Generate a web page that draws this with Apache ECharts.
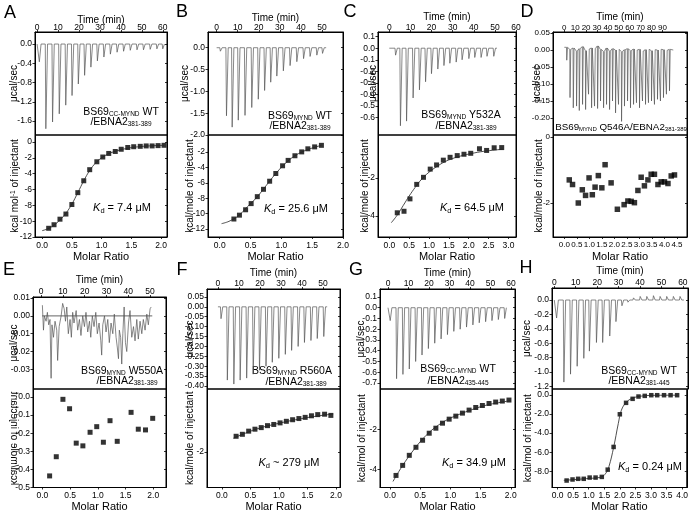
<!DOCTYPE html>
<html><head><meta charset="utf-8">
<script src="https://cdn.jsdelivr.net/npm/echarts@6/dist/echarts.min.js"></script>
<style>html,body{margin:0;padding:0;background:#fff}#c{width:691px;height:513px}</style>
</head><body><div id="c"></div>
<script>
// ================= DATA =================
// ---- A ----
const A_injTime = [0.8,3.9,7.1,10.3,13.4,16.4,19.4,22.4,25.4,28.5,31.6,34.7,37.9,41.0,44.2,47.4,50.5,53.7,56.9,59.7];
const A_injHeat = [-0.37,-1.76,-1.62,-1.45,-1.27,-1.07,-0.83,-0.65,-0.48,-0.35,-0.27,-0.21,-0.17,-0.15,-0.13,-0.12,-0.12,-0.11,-0.10,-0.10];
const A_ratio = [0.11,0.20,0.30,0.40,0.50,0.60,0.70,0.80,0.92,1.02,1.12,1.23,1.33,1.44,1.54,1.65,1.75,1.85,1.95,2.05];
const A_heat = [-10.9,-10.45,-9.75,-9.1,-7.9,-6.4,-4.9,-3.5,-2.5,-1.9,-1.45,-1.2,-0.92,-0.7,-0.6,-0.55,-0.5,-0.5,-0.46,-0.42];
const A_fitRatio = [0.0,0.1,0.2,0.3,0.4,0.5,0.6,0.7,0.8,0.9,1.0,1.1,1.2,1.4,1.6,1.8,2.05];
const A_fitHeat = [-11.2,-10.95,-10.5,-9.85,-9.0,-7.85,-6.4,-4.9,-3.6,-2.65,-2.0,-1.55,-1.25,-0.85,-0.62,-0.5,-0.42];
const A_timeTicks = [0,10,20,30,40,50,60];
const A_ratioTicks = [0,0.5,1,1.5,2];
const A_rawTicks = [0,-0.4,-0.8,-1.2,-1.6];
const A_heatTicks = [0,-2,-4,-6,-8,-10,-12];
// ---- B ----
const B_injTime = [1.5,4.4,7.1,10.0,13.2,16.4,19.5,22.5,25.4,28.3,31.4,34.6,37.8,41.0,44.1,47.3,50.0];
const B_injHeat = [-0.08,-1.56,-1.82,-1.66,-1.55,-1.37,-1.18,-0.98,-0.79,-0.65,-0.53,-0.41,-0.32,-0.25,-0.2,-0.17,-0.13];
const B_ratio = [0.23,0.32,0.42,0.51,0.61,0.71,0.81,0.91,1.02,1.11,1.22,1.33,1.43,1.54,1.65];
const B_heat = [-10.7,-10.2,-9.5,-8.7,-7.8,-6.85,-5.8,-4.8,-3.8,-3.1,-2.5,-2.0,-1.6,-1.35,-1.15];
const B_fitRatio = [0.03,0.15,0.3,0.45,0.6,0.75,0.9,1.05,1.2,1.35,1.5,1.65];
const B_fitHeat = [-11.3,-11.0,-10.3,-9.1,-7.9,-6.4,-4.9,-3.6,-2.6,-1.95,-1.5,-1.15];
const B_timeTicks = [0,10,20,30,40,50];
const B_ratioTicks = [0,0.5,1,1.5,2];
const B_rawTicks = [0,-0.5,-1,-1.5,-2];
const B_heatTicks = [-2,-4,-6,-8,-10,-12];
// ---- C ----
const C_injTime = [2.7,5.0,7.9,11.0,14.0,16.9,19.7,22.7,25.6,28.4,31.4,34.2,37.4,40.2,43.2,46.0,49.2];
const C_injHeat = [-0.06,-0.67,-0.63,-0.43,-0.36,-0.29,-0.22,-0.18,-0.15,-0.13,-0.12,-0.10,-0.09,-0.08,-0.08,-0.07,-0.07];
const C_ratio = [0.2,0.37,0.52,0.69,0.86,1.03,1.19,1.36,1.53,1.71,1.88,2.05,2.27,2.45,2.64,2.83];
const C_heat = [-3.83,-3.75,-3.1,-2.34,-1.97,-1.54,-1.32,-1.07,-0.92,-0.83,-0.76,-0.71,-0.47,-0.56,-0.42,-0.41];
const C_fitRatio = [0.05,0.2,0.35,0.5,0.65,0.8,1.0,1.2,1.4,1.6,1.8,2.0,2.3,2.6,2.85];
const C_fitHeat = [-4.35,-3.95,-3.45,-2.95,-2.5,-2.1,-1.7,-1.4,-1.15,-0.98,-0.85,-0.75,-0.63,-0.55,-0.5];
const C_timeTicks = [0,10,20,30,40,50,60];
const C_ratioTicks = [0,0.5,1,1.5,2,2.5,3];
const C_rawTicks = [0.1,0,-0.1,-0.2,-0.3,-0.4,-0.5,-0.6];
const C_heatTicks = [-2,-4];
// ---- D ----
const D_injTime = [2,5,8,11,13.5,16.5,19.3,22,24.8,27.5,30.3,33,35.8,38.5,41.3,44,46.8,49.5,52.3,55,57.8,60.5,63.3,66,68.8,71.5,74.3,77,79.8,82.5,85.3,88,90.8,93.5,96.3];
const D_injHeat = [-0.03,-0.14,-0.17,-0.165,-0.178,-0.16,-0.175,-0.13,-0.17,-0.165,-0.172,-0.15,-0.17,-0.16,-0.175,-0.15,-0.185,-0.16,-0.21,-0.165,-0.15,-0.17,-0.16,-0.155,-0.17,-0.15,-0.16,-0.155,-0.15,-0.16,-0.145,-0.15,-0.14,-0.13,-0.12];
const D_injBase = [0.008,0.002,0.006,-0.003,0.004,0.01,-0.002,0.003,0.006,0.004,0.012,0.002,-0.004,0.006,-0.003,0.004,0,0.002,-0.005,0.001,0.004,-0.002,0.003,0,0.002,-0.003,0.001,0.002,-0.002,0.001,0,0.002,0.001,-0.001,0.002];
const D_ratio = [0.2,0.33,0.56,0.72,0.85,0.99,1.12,1.23,1.36,1.5,1.63,1.87,2.12,2.39,2.54,2.67,2.8,2.94,3.07,3.2,3.34,3.47,3.6,3.74,3.87,4.0,4.14,4.27,4.4];
const D_heat = [-1.3,-1.44,-2.0,-1.6,-1.77,-1.24,-1.75,-1.52,-1.17,-1.54,-0.84,-1.39,-2.19,-2.05,-1.94,-1.95,-1.99,-1.62,-1.22,-1.48,-1.3,-1.13,-1.13,-1.44,-1.36,-1.36,-1.41,-1.18,-1.15];
const D_timeTicks = [0,10,20,30,40,50,60,70,80,90,100];
const D_ratioTicks = [0,0.5,1,1.5,2,2.5,3,3.5,4,4.5];
const D_rawTicks = [0.05,0,-0.05,-0.1,-0.15,-0.2];
const D_heatTicks = [0,-2];
// ---- E ----
const E_rawTime = [0.6,1.1,1.5,2.3,2.9,3.5,4.1,4.6,5.0,5.7,6.4,7.2,7.6,8.3,9.2,9.9,10.6,11.2,11.8,12.5,13.3,13.9,14.5,15.1,16.1,16.8,17.6,18.3,19.1,19.9,20.6,21.4,22.2,22.8,23.5,24.3,25.1,25.8,26.6,27.4,27.8,28.3,29.1,29.8,30.6,31.3,32.1,32.9,33.6,34.4,35.0,35.5,35.9,36.5,37.0,37.5,38.1,38.7,39.3,40.1,40.8,41.6,42.4,43.1,43.9,44.6,45.4,46.2,46.9,47.7,48.5,49.2,50.0,50.5];
const E_rawVal = [0.006,-0.008,0.0,-0.003,0.002,-0.005,-0.002,-0.035,-0.005,-0.012,-0.003,-0.008,-0.025,-0.006,0.0,0.007,0.004,-0.003,0.005,-0.01,-0.002,-0.012,0.002,-0.004,0.003,-0.008,-0.002,-0.011,0.0,-0.006,0.002,-0.009,-0.003,-0.012,0.0,-0.006,0.002,-0.01,-0.004,-0.014,-0.022,-0.005,0.0,-0.009,-0.002,-0.015,-0.004,-0.01,0.001,-0.012,-0.018,-0.024,-0.008,-0.012,-0.027,-0.01,0.005,-0.015,-0.02,-0.004,0.003,-0.012,-0.006,-0.014,-0.002,-0.013,-0.003,-0.01,-0.002,-0.008,0.001,-0.005,0.004,0.005];
const E_baseTime = [0.5,51];
const E_baseVal = [0,0];
const E_ratio = [0.13,0.25,0.37,0.49,0.61,0.73,0.86,0.98,1.1,1.22,1.35,1.6,1.73,1.86,1.99];
const E_heat = [-0.436,-0.33,-0.013,-0.065,-0.255,-0.27,-0.195,-0.164,-0.25,-0.131,-0.245,-0.085,-0.178,-0.182,-0.118];
const E_timeTicks = [0,10,20,30,40,50];
const E_ratioTicks = [0,0.5,1,1.5,2];
const E_rawTicks = [0.01,0,-0.01,-0.02,-0.03];
const E_heatTicks = [0,-0.1,-0.2,-0.3,-0.4,-0.5];
// ---- F ----
const F_injTime = [1.2,4.2,7.3,10.3,13.4,16.5,19.5,22.6,25.6,28.7,31.8,34.8,37.9,40.9,44.0,47.0,50.1];
const F_injHeat = [-0.06,-0.37,-0.39,-0.37,-0.36,-0.34,-0.32,-0.3,-0.28,-0.26,-0.24,-0.22,-0.2,-0.18,-0.17,-0.16,-0.15];
const F_ratio = [0.25,0.36,0.47,0.58,0.69,0.8,0.91,1.02,1.13,1.24,1.35,1.46,1.57,1.68,1.8,1.91];
const F_heat = [-1.6,-1.55,-1.47,-1.42,-1.38,-1.33,-1.3,-1.26,-1.22,-1.18,-1.15,-1.12,-1.08,-1.05,-1.04,-1.07];
const F_fitRatio = [0.2,0.6,1.0,1.4,1.8,1.95];
const F_fitHeat = [-1.65,-1.42,-1.27,-1.15,-1.06,-1.04];
const F_timeTicks = [0,10,20,30,40,50];
const F_ratioTicks = [0,0.5,1,1.5,2];
const F_rawTicks = [0.05,0,-0.05,-0.1,-0.15,-0.2,-0.25,-0.3,-0.35,-0.4];
const F_heatTicks = [-2];
// ---- G ----
const G_injTime = [0.8,3.9,7.0,10.1,13.2,16.3,19.4,22.5,25.6,28.7,31.8,34.9,38.0,41.1,44.2,47.3,50.4,53.5,56.6];
const G_injHeat = [-0.12,-0.66,-0.62,-0.57,-0.5,-0.44,-0.38,-0.33,-0.29,-0.25,-0.22,-0.2,-0.18,-0.16,-0.14,-0.13,-0.12,-0.11,-0.1];
const G_ratio = [0.1,0.21,0.32,0.43,0.54,0.65,0.76,0.87,0.98,1.09,1.2,1.31,1.42,1.53,1.64,1.75,1.86,1.97];
const G_heat = [-4.3,-3.8,-3.3,-2.9,-2.55,-2.2,-1.95,-1.7,-1.5,-1.35,-1.2,-1.05,-0.92,-0.82,-0.72,-0.65,-0.6,-0.55];
const G_fitRatio = [0.05,0.2,0.4,0.6,0.8,1.0,1.2,1.4,1.6,1.8,2.0];
const G_fitHeat = [-4.6,-3.85,-3.0,-2.3,-1.8,-1.45,-1.2,-0.98,-0.8,-0.68,-0.58];
const G_timeTicks = [0,10,20,30,40,50,60];
const G_ratioTicks = [0,0.5,1,1.5,2];
const G_rawTicks = [0.1,0,-0.1,-0.2,-0.3,-0.4,-0.5,-0.6,-0.7];
const G_heatTicks = [-2,-4];
// ---- H ----
const H_injTime = [0.8,4.2,7.3,10.4,13.5,16.1,19.4,22.3,25.6,28.5,31.3,34.1,36.7,39.8,42.9,46.0,49.1,52.2,55.3,58.4];
const H_injHeat = [-0.25,-1.14,-1.03,-0.92,-0.81,-0.71,-0.59,-0.59,-0.5,-0.3,-0.08,-0.03,0.03,0.05,0.05,0.06,0.05,0.05,0.05,0.05];
const H_ratio = [0.29,0.48,0.66,0.84,1.03,1.22,1.42,1.61,1.8,2.0,2.2,2.41,2.6,2.8,3.01,3.2,3.42,3.63,3.84];
const H_heat = [-8.97,-8.86,-8.79,-8.79,-8.66,-8.66,-8.59,-7.83,-5.45,-2.03,-0.83,-0.41,-0.17,-0.1,-0.03,-0.03,-0.03,-0.03,-0.03];
const H_fitRatio = [0.2,1.0,1.4,1.55,1.65,1.8,1.95,2.05,2.2,2.4,2.7,3.2,3.85];
const H_fitHeat = [-8.95,-8.75,-8.6,-8.2,-7.5,-5.5,-3.0,-1.6,-0.8,-0.35,-0.12,-0.04,-0.03];
const H_timeTicks = [0,10,20,30,40,50,60];
const H_ratioTicks = [0,0.5,1,1.5,2,2.5,3,3.5,4];
const H_rawTicks = [0,-0.2,-0.4,-0.6,-0.8,-1.0,-1.2];
const H_heatTicks = [0,-2,-4,-6,-8];

// ================= LAYOUT =================
const FONT = '"Liberation Sans", Arial, Helvetica, sans-serif';
const TICKFONT = '"Liberation Sans Narrow", "Liberation Sans", Arial, sans-serif';
const panels = [
 {L:35,R:167,t1:32,t2:135,t3:237, time:[-1,62], ratio:[-0.12,2.1], raw:[-1.89,0.25], heat:[-12,0.88],
  inj:[A_injTime,A_injHeat], traceEnd:61, pts:[A_ratio,A_heat], fit:[A_fitRatio,A_fitHeat],
  ticks:[A_timeTicks,A_ratioTicks,A_rawTicks,A_heatTicks], dec:[1,0], gaps:{time:7,raw:16,heat:15,rl:0,rn:14.5},
  rawName:'μcal/sec', heatName:'kcal mol{sup|-1} of injectant'},
 {L:208,R:343,t1:32,t2:135,t3:237, time:[-4.1,60], ratio:[-0.19,2.0], raw:[-2.0,0.36], heat:[-13.03,0.19],
  inj:[B_injTime,B_injHeat], traceEnd:52, pts:[B_ratio,B_heat], fit:[B_fitRatio,B_fitHeat],
  ticks:[B_timeTicks,B_ratioTicks,B_rawTicks,B_heatTicks], dec:[1,0], gaps:{time:8.5,raw:17.5,heat:13,rl:0,rn:14.5},
  rawName:'μcal/sec', heatName:'kcal/mole of injectant'},
 {L:378,R:516,t1:32,t2:135,t3:237, time:[-5.35,60], ratio:[-0.285,3.19], raw:[-0.75,0.14], heat:[-5.1,0.25],
  inj:[C_injTime,C_injHeat], traceEnd:51, pts:[C_ratio,C_heat], fit:[C_fitRatio,C_fitHeat],
  ticks:[C_timeTicks,C_ratioTicks,C_rawTicks,C_heatTicks], dec:[1,0], gaps:{time:10,raw:0,heat:8,rl:0,rn:14.5},
  rawName:'μcal/sec', heatName:'kcal/mole of injectant'},
 {L:553,R:687,t1:32,t2:135,t3:237, time:[-10.4,112.6], ratio:[-0.45,4.9], raw:[-0.25,0.053], heat:[-3.03,0.06],
  inj:[D_injTime,D_injHeat], base:D_injBase, w:0.9, traceEnd:100, pts:[D_ratio,D_heat], fit:null,
  ticks:[D_timeTicks,D_ratioTicks,D_rawTicks,D_heatTicks], dec:[2,0], gaps:{time:10,raw:11,heat:9,rl:0,rn:14.5}, small:true, sym:5.5,
  rawName:'μcal/sec', heatName:'kcal/mole of injectant'},
 {L:33,R:166,t1:297,t2:389,t3:488, time:[-3.7,57.3], ratio:[-0.17,2.23], raw:[-0.041,0.0106], heat:[-0.5,0.044],
  raw2:[E_rawTime,E_rawVal], baseLine:[E_baseTime,E_baseVal], pts:[E_ratio,E_heat], fit:null,
  ticks:[E_timeTicks,E_ratioTicks,E_rawTicks,E_heatTicks], dec:[2,1], gaps:{time:12,raw:13.5,heat:15,rl:1,rn:13.5},
  rawName:'μcal/sec', heatName:'', mirrorName:'kcal/mole of injectant'},
 {L:207,R:340,t1:289,t2:389,t3:488, time:[-5.2,58.1], ratio:[-0.26,2.07], raw:[-0.415,0.09], heat:[-2.9,-0.4],
  inj:[F_injTime,F_injHeat], traceEnd:52, pts:[F_ratio,F_heat], fit:[F_fitRatio,F_fitHeat],
  ticks:[F_timeTicks,F_ratioTicks,F_rawTicks,F_heatTicks], dec:[2,0], gaps:{time:11,raw:12,heat:12,rl:1,rn:13.5},
  rawName:'μcal/sec', heatName:'kcal/mole of injectant'},
 {L:380,R:515,t1:289,t2:389,t3:488, time:[-3.9,61.9], ratio:[-0.165,2.07], raw:[-0.756,0.174], heat:[-4.9,0.0],
  inj:[G_injTime,G_injHeat], traceEnd:58, pts:[G_ratio,G_heat], fit:[G_fitRatio,G_fitHeat],
  ticks:[G_timeTicks,G_ratioTicks,G_rawTicks,G_heatTicks], dec:[1,0], gaps:{time:11,raw:14,heat:13,rl:1,rn:13.5},
  rawName:'μcal/sec', heatName:'kcal/mol of injectant'},
 {L:552,R:688,t1:288,t2:389,t3:488, time:[-1.07,62.4], ratio:[-0.18,4.15], raw:[-1.236,0.167], heat:[-9.7,0.62],
  inj:[H_injTime,H_injHeat], traceEnd:60.5, pts:[H_ratio,H_heat], fit:[H_fitRatio,H_fitHeat],
  ticks:[H_timeTicks,H_ratioTicks,H_rawTicks,H_heatTicks], dec:[1,1], gaps:{time:12,raw:19.5,heat:18.5,rl:1,rn:13.5}, sym:4.5,
  rawName:'μcal/sec', heatName:'kcal/mol of injectant'}
];

const letters = [['A',10,13],['B',182,12],['C',350,12],['D',527,12],['E',9,270],['F',182,270],['G',356,270],['H',526,268]];
const notes = [
 [121,112,'{n|BS69}{s|CC-MYND}{n| WT}'],[121,122,'{n|/EBNA2}{s|381-389}'],[122,208,'{i|K}{d|d}{k| = 7.4 μM}'],
 [300,116,'{n|BS69}{s|MYND}{n| WT}'],[300,126,'{n|/EBNA2}{s|381-389}'],[296,209,'{i|K}{d|d}{k| = 25.6 μM}'],
 [461,115,'{n|BS69}{s|MYND}{n| Y532A}'],[466,126,'{n|/EBNA2}{s|381-389}'],[472,208,'{i|K}{d|d}{k| = 64.5 μM}'],
 [621,127,'{m|BS69}{t|MYND}{m| Q546A/EBNA2}{t|381-389}'],
 [122,371,'{n|BS69}{s|MYND}{n| W550A}'],[127,381,'{n|/EBNA2}{s|381-389}'],
 [292,371,'{n|BS69}{s|MYND}{n| R560A}'],[296,382,'{n|/EBNA2}{s|381-389}'],[289,463,'{i|K}{d|d}{k| ~ 279 μM}'],
 [458,369,'{n|BS69}{s|CC-MYND}{n| WT}'],[458,381,'{n|/EBNA2}{s|435-445}'],[474,463,'{i|K}{d|d}{k| = 34.9 μM}'],
 [639,371,'{n|BS69}{s|CC-MYND}{n| WT}'],[639,381,'{n|/EBNA2}{s|381-445}'],[650,467,'{i|K}{d|d}{k| = 0.24 μM}']
];

function fmt(v, dec){ return (Math.abs(v) < 1e-9 ? 0 : v).toFixed(dec); }

function spikeTrace(t, q, base, w, tEnd){
  const pts = [[0, base ? base[0] : 0]];
  for (let i = 0; i < t.length; i++){
    const b = base ? base[i] : 0;
    pts.push([t[i], b], [t[i] + 0.25*w, q[i]], [t[i] + w, b]);
  }
  pts.push([Math.max(tEnd, t[t.length-1] + w + 0.3), 0]);
  return pts;
}
const zip = (a, b) => a.map((v, i) => [v, b[i]]);

const option = {animation:false, backgroundColor:'#fff', grid:[], xAxis:[], yAxis:[], series:[], graphic:[]};

function xAx(gi, range, ticks, dec, pos, name, gap, margin, fs){
  return {type:'value', gridIndex:gi, min:range[0], max:range[1], position:pos,
    name:name, nameLocation:'middle', nameGap:gap, nameMoveOverlap:false,
    nameTextStyle:{fontFamily:FONT, fontSize: pos==='top'?10:11, color:'#000'},
    axisLine:{show:true, onZero:false, lineStyle:{color:'#000', width:1}},
    axisTick:{show:true, customValues:ticks, length:2, lineStyle:{color:'#000', width:0.8}},
    axisLabel:{show:true, customValues:ticks, formatter:v=>fmt(v,dec), fontSize:fs, margin:margin, color:'#000', fontFamily:TICKFONT, hideOverlap:false},
    splitLine:{show:false}};
}
function yAx(gi, range, ticks, dec, name, gap, fs){
  return {type:'value', gridIndex:gi, min:range[0], max:range[1], position:'left',
    name:name, nameLocation:'middle', nameGap:gap, nameMoveOverlap:false,
    nameTextStyle:{fontFamily:FONT, fontSize:10, color:'#000', rich:{sup:{fontSize:6.5, fontFamily:FONT, color:'#000', verticalAlign:'top', lineHeight:8}}},
    axisLine:{show:true, onZero:false, lineStyle:{color:'#000', width:1}},
    axisTick:{show:true, customValues:ticks, length:2.5, lineStyle:{color:'#000', width:0.8}},
    axisLabel:{show:true, customValues:ticks, formatter:v=>fmt(v,dec), fontSize:fs, margin:3, color:'#000', fontFamily:TICKFONT, hideOverlap:false},
    splitLine:{show:false}};
}
function yMirror(gi, range, ticks){
  return {type:'value', gridIndex:gi, min:range[0], max:range[1], position:'right',
    axisLine:{show:true, onZero:false, lineStyle:{color:'#000', width:1}},
    axisTick:{show:true, inside:true, customValues:ticks, length:2, lineStyle:{color:'#000', width:0.8}},
    axisLabel:{show:false}, splitLine:{show:false}};
}

panels.forEach(p => {
  const g = option.grid.length;
  option.grid.push({left:p.L, top:p.t1, width:p.R-p.L, height:p.t2-p.t1, show:true, borderColor:'#000', borderWidth:1, containLabel:false});
  option.grid.push({left:p.L, top:p.t2, width:p.R-p.L, height:p.t3-p.t2, show:true, borderColor:'#000', borderWidth:1, containLabel:false});
  const xi = option.xAxis.length, yi = option.yAxis.length;
  const fs = p.small ? 8 : 8.5;
  option.xAxis.push(xAx(g, p.time, p.ticks[0], 0, 'top', 'Time (min)', p.gaps.time, p.gaps.rl, fs));
  option.xAxis.push(xAx(g+1, p.ratio, p.ticks[1], 1, 'bottom', 'Molar Ratio', p.gaps.rn, 4, fs));
  option.yAxis.push(yAx(g, p.raw, p.ticks[2], p.dec[0], p.rawName, p.gaps.raw, fs));
  option.yAxis.push(yAx(g+1, p.heat, p.ticks[3], p.dec[1], p.heatName, p.gaps.heat, fs));
  option.yAxis.push(yMirror(g, p.raw, p.ticks[2]));
  option.yAxis.push(yMirror(g+1, p.heat, p.ticks[3]));
  const rawData = p.inj ? spikeTrace(p.inj[0], p.inj[1], p.base, p.w || 1.1, p.traceEnd) : zip(p.raw2[0], p.raw2[1]);
  if (p.baseLine) option.series.push({type:'line', xAxisIndex:xi, yAxisIndex:yi, data:zip(p.baseLine[0], p.baseLine[1]),
    showSymbol:false, symbol:'none', lineStyle:{color:'#222', width:0.7}, clip:true, silent:true});
  option.series.push({type:'line', xAxisIndex:xi, yAxisIndex:yi, data:rawData, showSymbol:false, symbol:'none',
    lineStyle:{color:'#555', width:0.7}, clip:true, silent:true});
  if (p.fit) option.series.push({type:'line', xAxisIndex:xi+1, yAxisIndex:yi+1, data:zip(p.fit[0], p.fit[1]), smooth:0.4,
    showSymbol:false, symbol:'none', lineStyle:{color:'#222', width:0.8}, clip:true, silent:true});
  option.series.push({type:'scatter', xAxisIndex:xi+1, yAxisIndex:yi+1, data:zip(p.pts[0], p.pts[1]), symbol:'rect',
    symbolSize:p.sym || 5, itemStyle:{color:'#000'}, clip:true, silent:true});
  if (p.mirrorName) option.graphic.push({type:'text', x:13.5, y:(p.t2+p.t3)/2, rotation:Math.PI/2, scaleY:-1,
    style:{text:p.mirrorName, fontSize:10, fontFamily:FONT, fill:'#000', align:'center', verticalAlign:'middle', textAlign:'center', textVerticalAlign:'middle'}});
});

letters.forEach(l => option.graphic.push({type:'text', x:l[1], y:l[2],
  style:{text:l[0], fontSize:18, fontFamily:FONT, fill:'#000', align:'center', verticalAlign:'middle', textAlign:'center', textVerticalAlign:'middle'}}));

const rich = {
  n:{fontSize:10.5, fontFamily:FONT, fill:'#000', lineHeight:12},
  s:{fontSize:6.5, fontFamily:FONT, fill:'#000', verticalAlign:'bottom', lineHeight:9},
  m:{fontSize:9.8, fontFamily:FONT, fill:'#000', lineHeight:11},
  t:{fontSize:6, fontFamily:FONT, fill:'#000', verticalAlign:'bottom', lineHeight:8.5},
  i:{fontSize:11, fontFamily:FONT, fontStyle:'italic', fill:'#000', lineHeight:13},
  d:{fontSize:7.5, fontFamily:FONT, fill:'#000', verticalAlign:'bottom', lineHeight:10},
  k:{fontSize:11, fontFamily:FONT, fill:'#000', lineHeight:13}
};
notes.forEach(nt => option.graphic.push({type:'text', x:nt[0], y:nt[1],
  style:{text:nt[2], rich:rich, fontSize:10.5, fontFamily:FONT, fill:'#000', align:'center', verticalAlign:'middle', textAlign:'center', textVerticalAlign:'middle'}}));

const chart = echarts.init(document.getElementById('c'), null, {renderer:'canvas'});
chart.setOption(option);
</script></body></html>
